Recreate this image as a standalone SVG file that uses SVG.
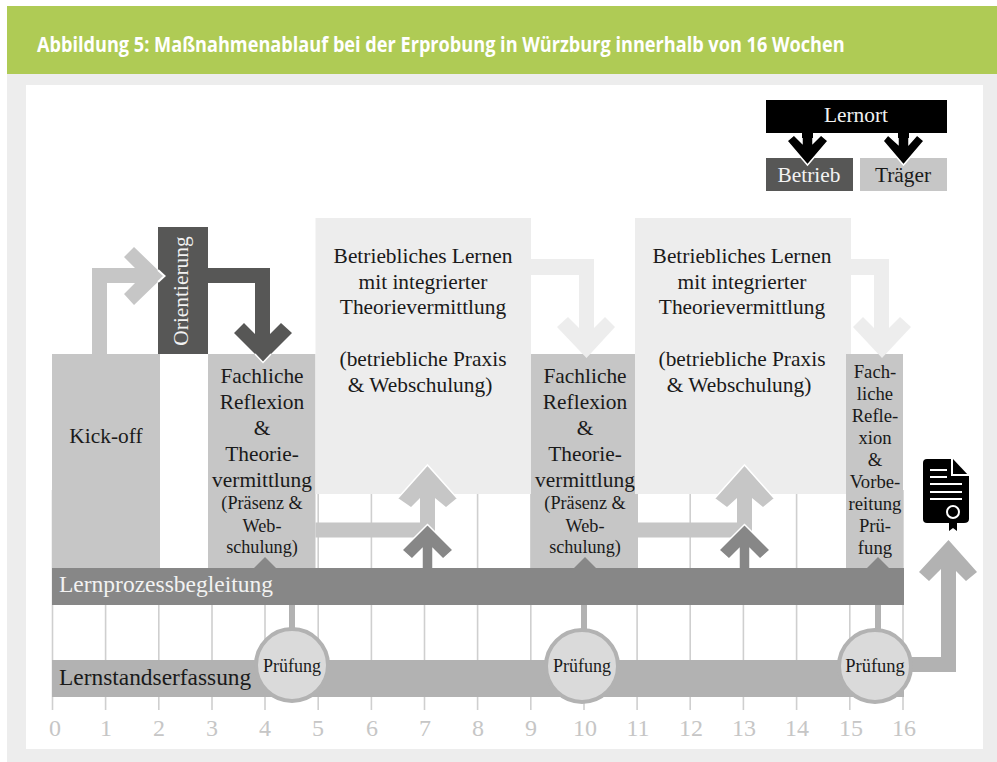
<svg xmlns="http://www.w3.org/2000/svg" width="997" height="762" viewBox="0 0 997 762">
<style>
text{font-family:"Liberation Serif","Times New Roman",serif;text-anchor:middle;fill:#1a1a1a}
.t20{font-size:21.400px}.t17{font-size:18.200px}.t18{font-size:18.700px}
.tick{stroke:#cfcfcf;stroke-width:1.6;fill:none}
.num{font-size:24px;fill:#c6c6c6}
.l{fill:#c6c6c6}.d{fill:#575756}.e{fill:#ededed}.m{fill:#878787}.g{fill:#b2b2b2}
.h{stroke:#fff;stroke-width:1.500;stroke-linejoin:miter}
</style>
<rect width="997" height="762" fill="#fff"/>
<rect x="7" y="6" width="990" height="756" fill="#ededed"/>
<rect x="7" y="6" width="990" height="68" fill="#afcb55"/>
<rect x="26" y="85" width="957" height="664" fill="#fff"/>
<text transform="translate(37 52) scale(.825 1)" style="font-family:'Open Sans','Noto Sans',sans-serif;font-weight:700;font-size:22px;text-anchor:start;fill:#fff">Abbildung 5: Maßnahmenablauf bei der Erprobung in Würzburg innerhalb von 16 Wochen</text>
<g id="grid">
<path class="tick" d="M52.5 490V710M105.600 490V710M158.800 490V710M212 490V710M265 490V710M318.200 490V710M371.400 490V710M424.500 490V710M477.600 490V710M530.800 490V710M584 490V710M637.100 490V710M690.200 490V710M743.400 490V710M796.600 490V710M849.800 490V710M903 490V710"/>
<text class="num" x="55" y="736">0</text><text class="num" x="106" y="736">1</text><text class="num" x="159" y="736">2</text><text class="num" x="212" y="736">3</text><text class="num" x="265" y="736">4</text><text class="num" x="318" y="736">5</text><text class="num" x="372" y="736">6</text><text class="num" x="425" y="736">7</text><text class="num" x="478" y="736">8</text><text class="num" x="531" y="736">9</text><text class="num" x="585" y="736">10</text><text class="num" x="638" y="736">11</text><text class="num" x="691" y="736">12</text><text class="num" x="744" y="736">13</text><text class="num" x="797" y="736">14</text><text class="num" x="851" y="736">15</text><text class="num" x="904" y="736">16</text>
</g>
<g id="kickoff"><rect class="l" x="52" y="354" width="108" height="216"/><text class="t20" x="106" y="443">Kick-off</text></g>
<g id="orientierung"><rect class="d" x="158" y="227" width="50" height="127"/>
<text class="t20" transform="translate(187.500 291) rotate(-90)" style="fill:#f2f2f2">Orientierung</text></g>
<g id="reflexion1"><rect class="l" x="208" y="354" width="107.500" height="216"/>
<text class="t20"><tspan x="262" y="383">Fachliche</tspan><tspan x="262" y="409">Reflexion</tspan><tspan x="262" y="435">&amp;</tspan><tspan x="262" y="461">Theorie-</tspan><tspan x="262" y="487">vermittlung</tspan></text>
<text class="t17"><tspan x="262" y="509">(Präsenz &amp;</tspan><tspan x="262" y="532">Web-</tspan><tspan x="262" y="553">schulung)</tspan></text></g>
<g id="lernen1"><rect class="e" x="315.500" y="218" width="215.500" height="276"/>
<text class="t20"><tspan x="423" y="263">Betriebliches Lernen</tspan><tspan x="423" y="289">mit integrierter</tspan><tspan x="423" y="314">Theorievermittlung</tspan><tspan x="423" y="366">(betriebliche Praxis</tspan><tspan x="420" y="392">&amp; Webschulung)</tspan></text></g>
<g id="reflexion2"><rect class="l" x="531" y="354" width="107" height="216"/>
<text class="t20"><tspan x="585" y="383">Fachliche</tspan><tspan x="585" y="409">Reflexion</tspan><tspan x="585" y="435">&amp;</tspan><tspan x="585" y="461">Theorie-</tspan><tspan x="585" y="487">vermittlung</tspan></text>
<text class="t17"><tspan x="585" y="509">(Präsenz &amp;</tspan><tspan x="585" y="532">Web-</tspan><tspan x="585" y="553">schulung)</tspan></text></g>
<g id="lernen2"><rect class="e" x="635" y="218" width="216" height="276"/>
<text class="t20"><tspan x="742" y="263">Betriebliches Lernen</tspan><tspan x="742" y="289">mit integrierter</tspan><tspan x="742" y="314">Theorievermittlung</tspan><tspan x="742" y="366">(betriebliche Praxis</tspan><tspan x="739" y="392">&amp; Webschulung)</tspan></text></g>
<g id="reflexion3"><rect class="l" x="846" y="354" width="57" height="216"/>
<text class="t18"><tspan x="875" y="378">Fach-</tspan><tspan x="875" y="400">liche</tspan><tspan x="875" y="422">Refle-</tspan><tspan x="875" y="444">xion</tspan><tspan x="875" y="466">&amp;</tspan><tspan x="875" y="488">Vorbe-</tspan><tspan x="875" y="510">reitung</tspan><tspan x="875" y="532">Prü-</tspan><tspan x="875" y="554">fung</tspan></text></g>
<g id="legend">
<rect x="766" y="100" width="181" height="33"/>
<text class="t20" x="856" y="122" style="fill:#f2f2f2">Lernort</text>
<rect class="d" x="766" y="158" width="87" height="33"/>
<text class="t20" x="809" y="182" style="fill:#f2f2f2">Betrieb</text>
<rect class="l" x="860" y="158" width="87" height="33"/>
<text class="t20" x="903" y="182">Träger</text>
</g>
<g id="connectors">
<path fill="#000" class="h" d="M802 133V143L794 135L787 141L807.500 165L828 141L821 135L813 143V133"/>
<path fill="#000" class="h" d="M898 133V144L888 135L883 141L903.500 165L924 141L917 135L909 144V133"/>
<path fill="#000" d="M802 131H813V138H802ZM898 131H909V138H898Z"/>
<path class="l" d="M92 354V268H135L124 257L134 247L164 276L134 305L124 294L135 283H107V354Z"/>
<path d="M158 270L164.500 276L158 282" fill="none" stroke="#fff" stroke-width="2"/>
<path class="d" d="M208 268H270V334L281 323L292 333L263 362L234 333L244 323L255 334V283H208Z"/>
<path d="M255 354L263 362.500L271 354" fill="none" stroke="#fff" stroke-width="1.500"/>
<path class="e" d="M531 259H594V328L605 317L615 327L586.500 358L557 327L568 317L579 328V275H531Z"/>
<path class="e" d="M851 259H889V328L900 317L911 327L882 358L853 327L863 317L874 328V275H851Z"/>
<path class="l" d="M315.500 522.500H420V498L411 507L398 498L427.500 465L457 498L446 507L435 498V537.500H315.500Z"/>
<path d="M398 498L427.500 465L457 498" fill="none" class="h"/>
<path class="l" d="M638 522.500H737V498L727 507L715 498L744.500 465L774 498L763 507L752 498V537.500H638Z"/>
<path d="M715 498L744.500 465L774 498" fill="none" class="h"/>
<path class="m h" d="M422 572V549L412 559L402 550L427.500 524.500L453 550L443 559L433 549V572Z"/>
<path class="m h" d="M739 572V549L729 559L719 550L744.500 524.500L770 550L760 559L750 549V572Z"/>
<path class="m" d="M254 568L265 557L276 568Z"/>
<path class="m" d="M574 568L585 557L596 568Z"/>
<path class="m" d="M867 568L878 557L889 568Z"/>
<rect class="g" x="289" y="605" width="6" height="25"/>
<rect class="g" x="581" y="605" width="6" height="25"/>
<rect class="g" x="875" y="605" width="6" height="25"/>
<path class="g" d="M900 657H941V569L929 581L919 572L948.500 540L977 572L966 581L956 571V672H900Z"/>
</g>
<g id="lernprozess"><rect class="m" x="52" y="568" width="852" height="37"/>
<text x="59" y="592" style="font-size:23.500px;text-anchor:start;fill:#f2f2f2">Lernprozessbegleitung</text></g>
<g id="lernstand"><rect class="g" x="52" y="660" width="852" height="37"/>
<text x="59" y="685" style="font-size:23.400px;text-anchor:start">Lernstandserfassung</text></g>
<g id="pruefung1"><circle cx="292" cy="665" r="36" fill="#dadada" stroke="#b2b2b2" stroke-width="4"/><text x="292" y="672" style="font-size:18px">Prüfung</text></g>
<g id="pruefung2"><circle cx="582" cy="666" r="36" fill="#dadada" stroke="#b2b2b2" stroke-width="4"/><text x="582" y="672" style="font-size:18px">Prüfung</text></g>
<g id="pruefung3"><circle cx="875" cy="666" r="36" fill="#dadada" stroke="#b2b2b2" stroke-width="4"/><text x="875" y="672" style="font-size:18.500px">Prüfung</text></g>
<g id="urkunde">
<path d="M927 459H953L969 476V519Q969 523 964 523H927Q923 523 923 519V463Q923 459 927 459Z" fill="#000"/>
<path d="M952 458V475H970" fill="none" stroke="#fff" stroke-width="2"/>
<path d="M930 470H947M930 477H947M930 484H962M930 492H962M930 499H962" stroke="#fff" stroke-width="2" fill="none"/>
<path d="M949 516V531L953 528L957 531V516Z" fill="#000"/>
<circle cx="953" cy="512" r="6" fill="#000" stroke="#fff" stroke-width="2"/>
</g>
</svg>
